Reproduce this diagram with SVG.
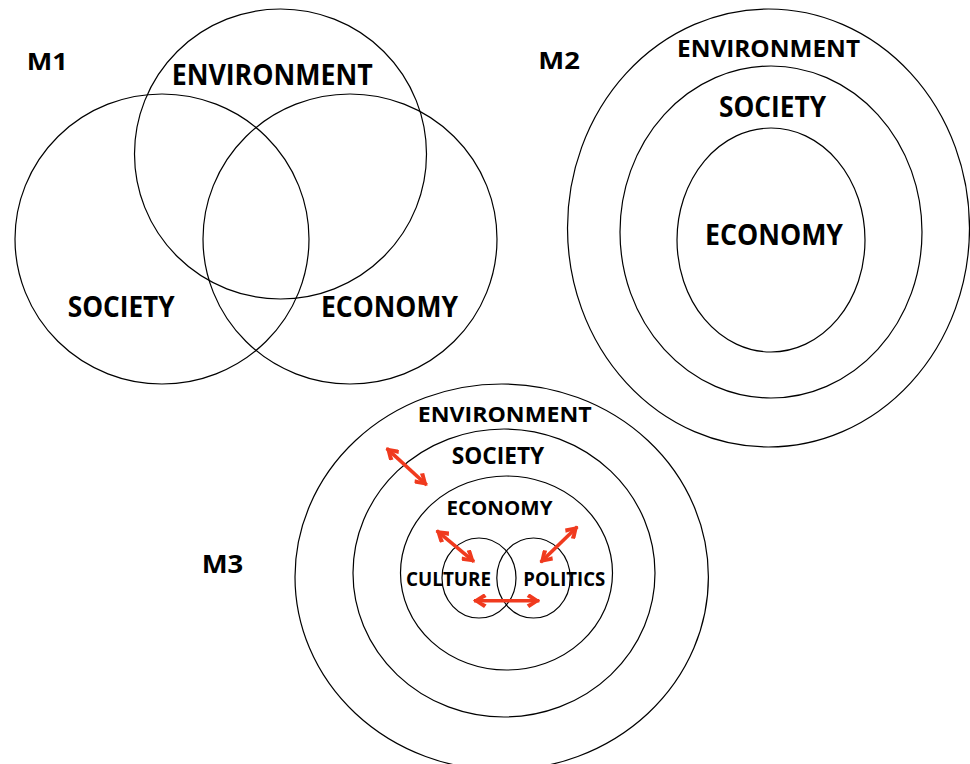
<svg xmlns="http://www.w3.org/2000/svg" width="970" height="764" viewBox="0 0 970 764">
<style>
.c{fill:none;stroke:#000;stroke-width:1.2}
.t{font-family:"Open Sans","Liberation Sans",sans-serif;font-weight:700;fill:#000}
.a{stroke:#F03A1E;stroke-width:3.6;fill:none;marker-start:url(#ah);marker-end:url(#ah)}
</style>
<defs>
<marker id="ah" viewBox="0 0 12 12" refX="11" refY="6" markerWidth="14" markerHeight="14" markerUnits="userSpaceOnUse" orient="auto-start-reverse">
<path d="M12,6 L2.4,-0.2 L0.2,2.8 L6.6,6 L0.2,9.2 L2.4,12.2 Z" fill="#F03A1E"/>
</marker>
</defs>
<rect width="970" height="764" fill="#fff"/>
<g id="m1">
<text class="t" x="26.7" y="70" font-size="24" textLength="41" lengthAdjust="spacingAndGlyphs">M1</text>
<g id="m1-environment"><ellipse class="c" cx="280.5" cy="154" rx="146" ry="145"/><text class="t" x="171.7" y="85" font-size="28" textLength="201" lengthAdjust="spacingAndGlyphs">ENVIRONMENT</text></g>
<g id="m1-society"><ellipse class="c" cx="162" cy="239" rx="147" ry="145"/><text class="t" x="67.7" y="317" font-size="28" textLength="107" lengthAdjust="spacingAndGlyphs">SOCIETY</text></g>
<g id="m1-economy"><ellipse class="c" cx="350" cy="239" rx="147" ry="145"/><text class="t" x="321" y="317" font-size="28" textLength="137" lengthAdjust="spacingAndGlyphs">ECONOMY</text></g>
</g>
<g id="m2">
<text class="t" x="538.3" y="69.3" font-size="24" textLength="41.7" lengthAdjust="spacingAndGlyphs">M2</text>
<g id="m2-environment"><ellipse class="c" cx="768.5" cy="228" rx="201" ry="219"/><text class="t" x="677" y="57.3" font-size="24" textLength="183" lengthAdjust="spacingAndGlyphs">ENVIRONMENT</text></g>
<g id="m2-society"><ellipse class="c" cx="771" cy="232" rx="151" ry="166"/><text class="t" x="719" y="117" font-size="28" textLength="107" lengthAdjust="spacingAndGlyphs">SOCIETY</text></g>
<g id="m2-economy"><ellipse class="c" cx="771" cy="240" rx="94" ry="112"/><text class="t" x="705" y="245" font-size="28" textLength="138" lengthAdjust="spacingAndGlyphs">ECONOMY</text></g>
</g>
<g id="m3">
<text class="t" x="201.7" y="573.3" font-size="25" textLength="41.6" lengthAdjust="spacingAndGlyphs">M3</text>
<g id="m3-environment"><ellipse class="c" cx="501.7" cy="577" rx="206.7" ry="193"/><text class="t" x="417.7" y="421.7" font-size="22" textLength="174" lengthAdjust="spacingAndGlyphs">ENVIRONMENT</text></g>
<g id="m3-society"><ellipse class="c" cx="504" cy="573" rx="151" ry="144"/><text class="t" x="451.7" y="464" font-size="23" textLength="92.5" lengthAdjust="spacingAndGlyphs">SOCIETY</text></g>
<g id="m3-economy"><ellipse class="c" cx="506.5" cy="573" rx="106" ry="97"/><text class="t" x="446.5" y="515" font-size="20" textLength="106" lengthAdjust="spacingAndGlyphs">ECONOMY</text></g>
<g id="m3-culture"><ellipse class="c" cx="479" cy="578" rx="37" ry="40"/><text class="t" x="406" y="586" font-size="20" textLength="85" lengthAdjust="spacingAndGlyphs">CULTURE</text></g>
<g id="m3-politics"><ellipse class="c" cx="533.5" cy="578" rx="36.7" ry="40"/><text class="t" x="523.3" y="586" font-size="20" textLength="82" lengthAdjust="spacingAndGlyphs">POLITICS</text></g>
</g>
<g id="connectors">
<line class="a" x1="386.7" y1="448.3" x2="426.7" y2="485"/>
<line class="a" x1="436.7" y1="530.7" x2="474" y2="561.7"/>
<line class="a" x1="577.3" y1="526.7" x2="540.7" y2="562.3"/>
<line class="a" x1="474" y1="600.7" x2="539.3" y2="600.7"/>
</g>
</svg>
